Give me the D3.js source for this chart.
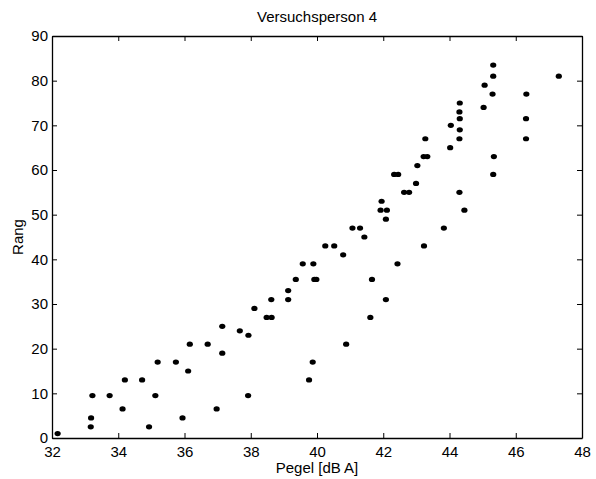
<!DOCTYPE html>
<html>
<head>
<meta charset="utf-8">
<script src="https://cdn.jsdelivr.net/npm/d3@7"></script>
<style>
  body { margin: 0; background: #fff; }
  svg text { font-family: "Liberation Sans", Arial, sans-serif; fill: #000; }
</style>
</head>
<body>
<svg id="chart" width="596" height="479"></svg>
<script>
// Pegel [dB A] und Rang
const pegel = [
  32.17, 33.17, 33.18, 33.22, 33.74, 34.13, 34.2, 34.72, 34.93, 35.12,
  35.19, 35.74, 35.94, 36.11, 36.16, 36.7, 36.97, 37.14, 37.14, 37.67,
  37.93, 37.92, 38.11, 38.48, 38.63, 38.62, 39.13, 39.13, 39.36, 39.57,
  39.89, 39.92, 39.98, 40.25, 40.52, 40.79, 41.07, 41.3, 41.43, 41.66,
  41.61, 40.88, 39.87, 39.76, 42.08, 42.43, 43.23, 43.83, 44.45, 44.3,
  41.95, 41.92, 42.11, 42.08, 42.63, 42.78, 42.99, 42.33, 42.45, 43.03,
  43.22, 43.33, 44.02, 43.27, 44.3, 45.32, 45.32, 45.06, 45.3, 47.3,
  46.32, 45.03, 44.31, 44.3, 44.31, 44.04, 44.31, 46.31, 46.31, 45.34,
  45.32
];
const rang = [
  1, 2.5, 4.5, 9.5, 9.5, 6.5, 13, 13, 2.5, 9.5,
  17, 17, 4.5, 15, 21, 21, 6.5, 25, 19, 24,
  23, 9.5, 29, 27, 27, 31, 31, 33, 35.5, 39,
  39, 35.5, 35.5, 43, 43, 41, 47, 47, 45, 35.5,
  27, 21, 17, 13, 31, 39, 43, 47, 51, 55,
  53, 51, 51, 49, 55, 55, 57, 59, 59, 61,
  63, 63, 65, 67, 67, 83.5, 81, 79, 77, 81,
  77, 74, 75, 73, 71.5, 70, 69, 71.5, 67, 63,
  59
];
const xTicks = [32, 34, 36, 38, 40, 42, 44, 46, 48];
const yTicks = [0, 10, 20, 30, 40, 50, 60, 70, 80, 90];

var margin = {top: 36, right: 14, bottom: 41, left: 52},
    width = 596 - margin.left - margin.right,
    height = 479 - margin.top - margin.bottom;
var fs = "15px";

const svg = d3.select("#chart");
const g = svg.append("g")
    .attr("transform", "translate(" + margin.left + "," + margin.top + ")");

var x = d3.scaleLinear().domain([32, 48]).range([0, width]);
var y = d3.scaleLinear().domain([0, 90]).range([height, 0]);

// Achsen mit Ticks nach innen, auch oben und rechts
function styleAxis(sel) {
    sel.selectAll("path").attr("stroke", "#000").attr("stroke-width", 1.3);
    sel.selectAll("line").attr("stroke", "#000").attr("stroke-width", 1);
    sel.selectAll("text").style("font-size", fs).attr("fill", "#000");
}

g.append("g")
    .attr("transform", "translate(0," + height + ")")
    .call(d3.axisBottom(x).tickValues(xTicks).tickSize(-5).tickSizeOuter(0).tickPadding(8))
    .call(styleAxis);
g.append("g")
    .call(d3.axisTop(x).tickValues(xTicks).tickSize(-5).tickSizeOuter(0).tickFormat(""))
    .call(styleAxis);
g.append("g")
    .call(d3.axisLeft(y).tickValues(yTicks).tickSize(-5).tickSizeOuter(0).tickPadding(4))
    .call(styleAxis);
g.append("g")
    .attr("transform", "translate(" + width + ",0)")
    .call(d3.axisRight(y).tickValues(yTicks).tickSize(-5).tickSizeOuter(0).tickFormat(""))
    .call(styleAxis);

// Punkte
g.append("g")
    .selectAll("ellipse")
    .data(pegel.map((p, i) => [p, rang[i]]))
    .enter()
    .append("ellipse")
    .attr("cx", d => x(d[0]))
    .attr("cy", d => y(d[1]))
    .attr("rx", 3.1)
    .attr("ry", 2.6)
    .style("fill", "#000");

// Beschriftung
svg.append("text")
    .attr("x", margin.left + width / 2)
    .attr("y", 22)
    .attr("text-anchor", "middle")
    .style("font-size", fs)
    .text("Versuchsperson 4");
svg.append("text")
    .attr("x", margin.left + width / 2)
    .attr("y", 473)
    .attr("text-anchor", "middle")
    .style("font-size", fs)
    .text("Pegel [dB A]");
svg.append("text")
    .attr("transform", "rotate(-90)")
    .attr("x", -(margin.top + height / 2))
    .attr("y", 23)
    .attr("text-anchor", "middle")
    .style("font-size", fs)
    .text("Rang");
</script>
</body>
</html>
